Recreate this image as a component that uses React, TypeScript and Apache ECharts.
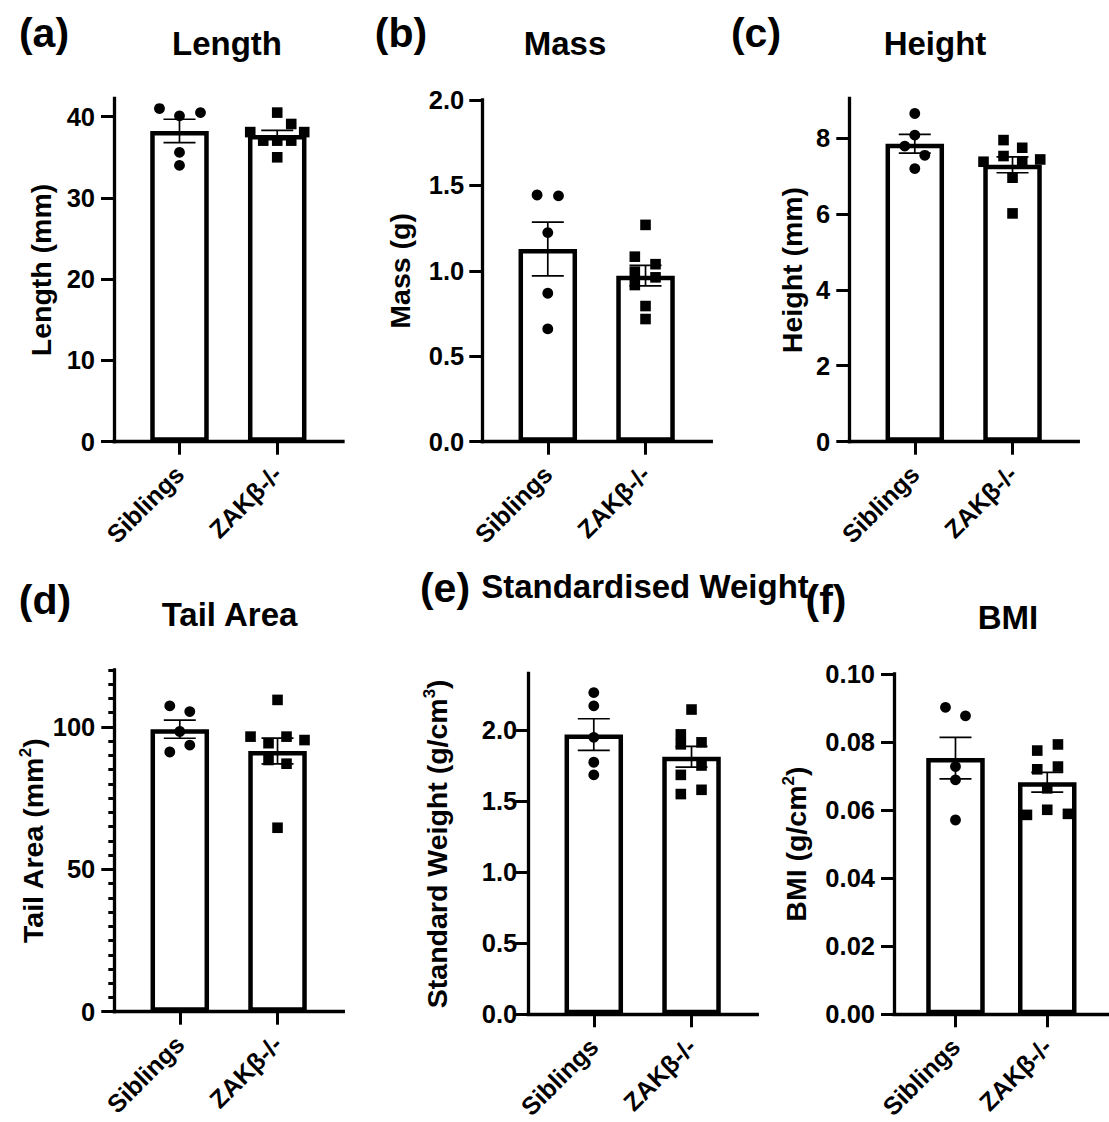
import React, { useEffect, useRef } from "react";
import * as echarts from "echarts";

const categories = ["Siblings", "ZAKβ-/-"];

// (a) Length
const lengthSiblings = [41.0, 40.1, 40.5, 35.6, 34.0];
const lengthSiblingsJitter = [-20, 0, 21, 0, 0];
const lengthZak = [40.5, 39.1, 38.1, 38.1, 37.05, 37.05, 37.05, 35.0];
const lengthZakJitter = [0, 14, -27, 27, -14, 0, 14, 0];
const lengthMean = [38.24, 37.74];
const lengthSem = [1.44, 0.58];
const lengthTicks = [0, 10, 20, 30, 40];

// (b) Mass
const massSiblings = [1.444, 1.439, 1.224, 0.869, 0.66];
const massSiblingsJitter = [-10.7, 10.7, 0, 0, 0];
const massZak = [1.269, 1.083, 1.039, 0.995, 0.917, 0.962, 0.794, 0.718];
const massZakJitter = [0, -10.7, 10, -10.7, -10.7, 10, 0, 0];
const massMean = [1.128, 0.972];
const massSem = [0.157, 0.06];
const massTicks = [0, 0.5, 1.0, 1.5, 2.0];

// (c) Height
const heightSiblings = [8.64, 8.07, 7.78, 7.54, 7.19];
const heightSiblingsJitter = [0, 0, -10, 10, 0];
const heightZak = [7.94, 7.74, 7.52, 7.37, 7.37, 7.43, 6.95, 6.01];
const heightZakJitter = [-9, 9.7, -9, -29, 9.7, 27.7, 0, 0];
const heightMean = [7.844, 7.29];
const heightSem = [0.246, 0.21];
const heightTicks = [0, 2, 4, 6, 8];

// (d) Tail Area
const tailSiblings = [107.4, 105.4, 98.4, 91.2, 93.6];
const tailSiblingsJitter = [-10, 10, 0, -10, 10];
const tailZak = [109.5, 96.6, 96.6, 95.4, 94.3, 88.4, 87.1, 64.6];
const tailZakJitter = [0, -27, 9, 27, -9, -9, 9, 0];
const tailMean = [99.2, 91.56];
const tailSem = [3.17, 4.53];
const tailTicks = [0, 50, 100];

// (e) Standardised Weight
const weightSiblings = [2.264, 2.171, 1.949, 1.774, 1.685];
const weightSiblingsJitter = [0, 0, 0, 0, 0];
const weightZak = [2.145, 1.97, 1.9, 1.914, 1.751, 1.685, 1.55, 1.58];
const weightZakJitter = [0, -10.7, -10.7, 10, 10, -10.7, -10.7, 10];
const weightMean = [1.969, 1.812];
const weightSem = [0.111, 0.073];
const weightTicks = [0, 0.5, 1.0, 1.5, 2.0];

// (f) BMI
const bmiSiblings = [0.0902, 0.0877, 0.0728, 0.0689, 0.0571];
const bmiSiblingsJitter = [-10, 10, 0, 0, 0];
const bmiZak = [0.0775, 0.0793, 0.072, 0.0728, 0.0664, 0.0586, 0.0601, 0.0589];
const bmiZakJitter = [-10, 10.7, -10, 10.7, 0, -20.3, 0, 20.7];
const bmiMean = [0.0753, 0.0682];
const bmiSem = [0.0061, 0.0029];
const bmiTicks = [0, 0.02, 0.04, 0.06, 0.08, 0.1];

const FONT = "'Liberation Sans', Arial, Helvetica, sans-serif";
const NAME_SIZE = 28.5;
const TICK_SIZE = 25.5;

type Panel = {
  letter: string;
  title: string;
  yName: string;
  sib: number[];
  sibJ: number[];
  zak: number[];
  zakJ: number[];
  mean: number[];
  sem: number[];
  ticks: number[];
  max: number;
  decimals: number;
  left: number;
  top: number;
  height: number;
  labelMargin: number;
  nameGap: number;
  titleX: number;
  titleY: number;
  letterX: number;
  letterY: number;
  minor?: number;
};

const panels: Panel[] = [
  {
    letter: "(a)", title: "Length", yName: "{t|Length (mm)}",
    sib: lengthSiblings, sibJ: lengthSiblingsJitter, zak: lengthZak, zakJ: lengthZakJitter,
    mean: lengthMean, sem: lengthSem, ticks: lengthTicks, max: 42.26, decimals: 0,
    left: 114, top: 98.3, height: 343.4, labelMargin: 19, nameGap: 57,
    titleX: 227, titleY: 43, letterX: 44, letterY: 33,
  },
  {
    letter: "(b)", title: "Mass", yName: "{t|Mass (g)}",
    sib: massSiblings, sibJ: massSiblingsJitter, zak: massZak, zakJ: massZakJitter,
    mean: massMean, sem: massSem, ticks: massTicks, max: 2.0, decimals: 1,
    left: 482.3, top: 100, height: 341.7, labelMargin: 18, nameGap: 66,
    titleX: 565, titleY: 43, letterX: 401, letterY: 33,
  },
  {
    letter: "(c)", title: "Height", yName: "{t|Height (mm)}",
    sib: heightSiblings, sibJ: heightSiblingsJitter, zak: heightZak, zakJ: heightZakJitter,
    mean: heightMean, sem: heightSem, ticks: heightTicks, max: 9.04, decimals: 0,
    left: 849.3, top: 98.3, height: 343.4, labelMargin: 19, nameGap: 41,
    titleX: 935, titleY: 43, letterX: 756, letterY: 33,
  },
  {
    letter: "(d)", title: "Tail Area", yName: "{t|Tail Area (mm}{s|2}{t|)}",
    sib: tailSiblings, sibJ: tailSiblingsJitter, zak: tailZak, zakJ: tailZakJitter,
    mean: tailMean, sem: tailSem, ticks: tailTicks, max: 120, decimals: 0,
    left: 114.3, top: 670, height: 341.7, labelMargin: 19, nameGap: 65, minor: 5,
    titleX: 229.5, titleY: 614, letterX: 45, letterY: 600,
  },
  {
    letter: "(e)", title: "Standardised Weight", yName: "{t|Standard Weight (g/cm}{s|3}{t|)}",
    sib: weightSiblings, sibJ: weightSiblingsJitter, zak: weightZak, zakJ: weightZakJitter,
    mean: weightMean, sem: weightSem, ticks: weightTicks, max: 2.4, decimals: 1,
    left: 528.3, top: 673.3, height: 344, labelMargin: 11, nameGap: 75,
    titleX: 645, titleY: 586, letterX: 445, letterY: 588,
  },
  {
    letter: "(f)", title: "BMI", yName: "{t|BMI (g/cm}{s|2}{t|)}",
    sib: bmiSiblings, sibJ: bmiSiblingsJitter, zak: bmiZak, zakJ: bmiZakJitter,
    mean: bmiMean, sem: bmiSem, ticks: bmiTicks, max: 0.1, decimals: 2,
    left: 894, top: 674, height: 343.3, labelMargin: 19, nameGap: 82,
    titleX: 1008, titleY: 617, letterX: 826, letterY: 600,
  },
];

const X_MIN = -0.67;
const X_MAX = 1.673;
const GRID_W = 229;

function buildOption() {
  const grid: any[] = [];
  const xAxis: any[] = [];
  const yAxis: any[] = [];
  const series: any[] = [];
  const graphic: any[] = [];
  const extraY: any[] = [];

  panels.forEach((p, i) => {
    grid.push({ left: p.left, top: p.top, width: GRID_W, height: p.height, containLabel: false });
    xAxis.push({
      type: "value",
      gridIndex: i,
      min: X_MIN,
      max: X_MAX,
      axisLine: { show: true, onZero: false, lineStyle: { color: "#000", width: 3.3, cap: "square" } },
      axisTick: { show: true, customValues: [0, 1], length: 13, lineStyle: { color: "#000", width: 3 } },
      axisLabel: {
        show: true,
        customValues: [0, 1],
        formatter: (v: number) => categories[Math.round(v)] ?? "",
        rotate: 45,
        margin: 28,
        color: "#000",
        fontFamily: FONT,
        fontWeight: "bold",
        fontSize: 25,
      },
      splitLine: { show: false },
    });
    yAxis.push({
      type: "value",
      gridIndex: i,
      min: 0,
      max: p.max,
      name: p.yName,
      nameLocation: "middle",
      nameGap: p.nameGap,
      nameRotate: 90,
      nameTextStyle: {
        color: "#000",
        fontFamily: FONT,
        fontWeight: "bold",
        fontSize: NAME_SIZE,
        rich: {
          t: { fontFamily: FONT, fontWeight: "bold", fontSize: NAME_SIZE, color: "#000", lineHeight: 32 },
          s: { fontFamily: FONT, fontWeight: "bold", fontSize: 17, color: "#000", verticalAlign: "top", lineHeight: 32 },
        },
      },
      axisLine: { show: true, onZero: false, lineStyle: { color: "#000", width: 3.3, cap: "square" } },
      axisTick: { show: true, customValues: p.ticks, length: 13, lineStyle: { color: "#000", width: 3 } },
      axisLabel: {
        show: true,
        customValues: p.ticks,
        margin: p.labelMargin,
        formatter: (v: number) => v.toFixed(p.decimals),
        color: "#000",
        fontFamily: FONT,
        fontWeight: "bold",
        fontSize: TICK_SIZE,
      },
      splitLine: { show: false },
    });
    if (p.minor) {
      extraY.push({
        type: "value",
        gridIndex: i,
        min: 0,
        max: p.max,
        interval: p.minor,
        position: "left",
        axisLine: { show: false, onZero: false },
        axisTick: { show: true, length: 6, lineStyle: { color: "#000", width: 3 } },
        axisLabel: { show: false },
        splitLine: { show: false },
      });
    }

    series.push({
      type: "bar",
      xAxisIndex: i,
      yAxisIndex: i,
      data: p.mean.map((m, g) => [g, m]),
      barWidth: 58.5,
      itemStyle: { color: "#fff", borderColor: "#000", borderWidth: 4.5 },
      z: 2,
      silent: true,
    });

    const dots: number[][] = [];
    p.sib.forEach((v, k) => dots.push([0, v, p.sibJ[k]]));
    p.zak.forEach((v, k) => dots.push([1, v, p.zakJ[k]]));
    series.push({
      type: "custom",
      xAxisIndex: i,
      yAxisIndex: i,
      data: dots,
      encode: { x: 0, y: 1 },
      z: 3,
      silent: true,
      renderItem: (params: any, api: any) => {
        const g = api.value(0);
        const v = api.value(1);
        const j = api.value(2);
        const c = api.coord([g, v]);
        const x = c[0] + j;
        const y = c[1];
        if (g === 0) {
          return { type: "circle", shape: { cx: x, cy: y, r: 5.4 }, style: { fill: "#000" } };
        }
        return { type: "rect", shape: { x: x - 5.3, y: y - 5.3, width: 10.6, height: 10.6 }, style: { fill: "#000" } };
      },
    });

    series.push({
      type: "custom",
      xAxisIndex: i,
      yAxisIndex: i,
      data: p.mean.map((m, g) => [g, m, p.sem[g]]),
      encode: { x: 0, y: 1 },
      z: 4,
      silent: true,
      renderItem: (params: any, api: any) => {
        const g = api.value(0);
        const m = api.value(1);
        const s = api.value(2);
        const top = api.coord([g, m + s]);
        const bot = api.coord([g, m - s]);
        const x = top[0];
        const hw = 16;
        const st = { stroke: "#000", lineWidth: 1.7 };
        return {
          type: "group",
          children: [
            { type: "line", shape: { x1: x, y1: top[1], x2: x, y2: bot[1] }, style: st },
            { type: "line", shape: { x1: x - hw, y1: top[1], x2: x + hw, y2: top[1] }, style: st },
            { type: "line", shape: { x1: x - hw, y1: bot[1], x2: x + hw, y2: bot[1] }, style: st },
          ],
        };
      },
    });

    graphic.push({
      type: "text",
      x: p.titleX,
      y: p.titleY,
      style: {
        text: p.title,
        fill: "#000",
        font: `bold 33px ${FONT}`,
        align: "center",
        verticalAlign: "middle",
      },
    });
    graphic.push({
      type: "text",
      x: p.letterX,
      y: p.letterY,
      style: {
        text: p.letter,
        fill: "#000",
        font: `bold 41px ${FONT}`,
        align: "center",
        verticalAlign: "middle",
      },
    });
  });

  extraY.forEach((a) => yAxis.push(a));

  return {
    animation: false,
    backgroundColor: "#fff",
    grid,
    xAxis,
    yAxis,
    series,
    graphic,
  };
}

export default function App() {
  const ref = useRef<HTMLDivElement>(null);
  useEffect(() => {
    document.body.style.margin = "0";
    if (!ref.current) return;
    const chart = echarts.init(ref.current, undefined, { renderer: "svg" });
    chart.setOption(buildOption() as any);
    return () => {
      chart.dispose();
    };
  }, []);
  return <div ref={ref} style={{ width: 1109, height: 1122 }} />;
}
